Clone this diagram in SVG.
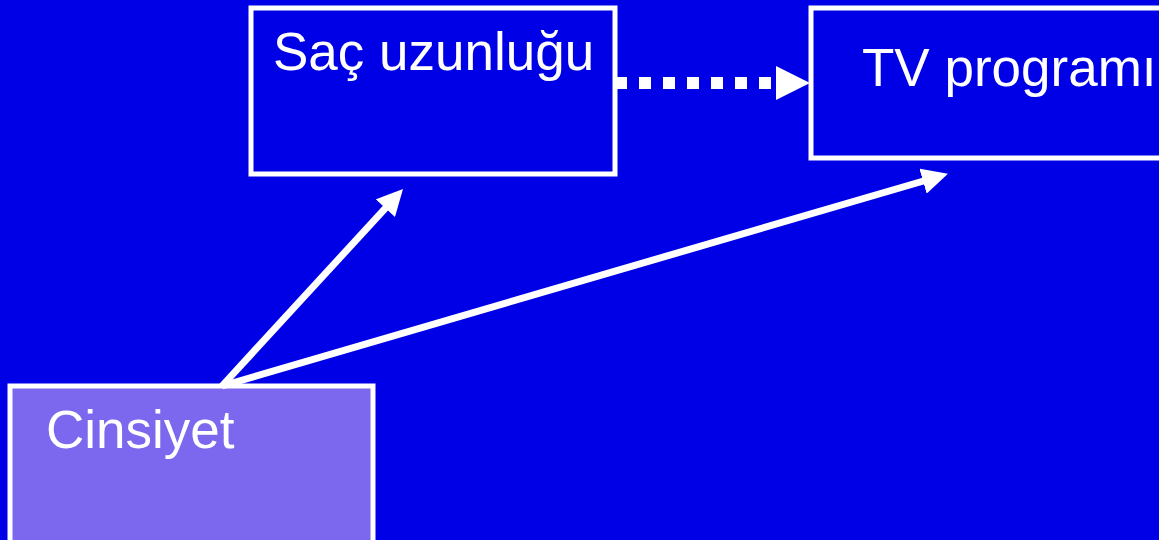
<svg xmlns="http://www.w3.org/2000/svg" width="1159" height="540" viewBox="0 0 1159 540">
  <style>
    .box { fill: #0000E6; stroke: #FFFFFF; stroke-width: 5; }
    .boxLight { fill: #7B68EE; stroke: #FFFFFF; stroke-width: 5; }
    .label { font-family: "Liberation Sans", Arial, sans-serif; font-size: 53px; fill: #FFFFFF; }
    .conn { stroke: #FFFFFF; stroke-width: 7; fill: none; }
    .dotted { stroke: #FFFFFF; stroke-width: 12; fill: none; stroke-dasharray: 12 12; }
  </style>
  <defs>
    <marker id="head" markerUnits="userSpaceOnUse" markerWidth="26" markerHeight="26" refX="13" refY="13" orient="auto">
      <path d="M0,0 L26,13 L0,26 z" fill="#FFFFFF"/>
    </marker>
    <marker id="headBig" markerUnits="userSpaceOnUse" markerWidth="34" markerHeight="34" refX="0" refY="17" orient="auto">
      <path d="M0,0 L34,17 L0,34 z" fill="#FFFFFF"/>
    </marker>
  </defs>
  <rect x="0" y="0" width="1159" height="540" fill="#0000E6"/>

  <g id="sac">
    <rect class="box" x="251" y="8" width="364" height="166"/>
    <text class="label" x="273" y="70">Saç uzunluğu</text>
  </g>

  <g id="tv">
    <rect class="box" x="811" y="8" width="400" height="150"/>
    <text class="label" x="862" y="86">TV programı</text>
  </g>

  <g id="cinsiyet">
    <rect class="boxLight" x="10" y="386" width="363" height="200"/>
    <text class="label" x="46" y="448">Cinsiyet</text>
  </g>

  <g id="connectors">
    <line class="dotted" x1="615" y1="83" x2="776" y2="83" marker-end="url(#headBig)"/>
    <line class="conn" x1="222" y1="386" x2="394.2" y2="198.6" marker-end="url(#head)"/>
    <line class="conn" x1="222" y1="386" x2="935.5" y2="177.5" marker-end="url(#head)"/>
  </g>
</svg>
